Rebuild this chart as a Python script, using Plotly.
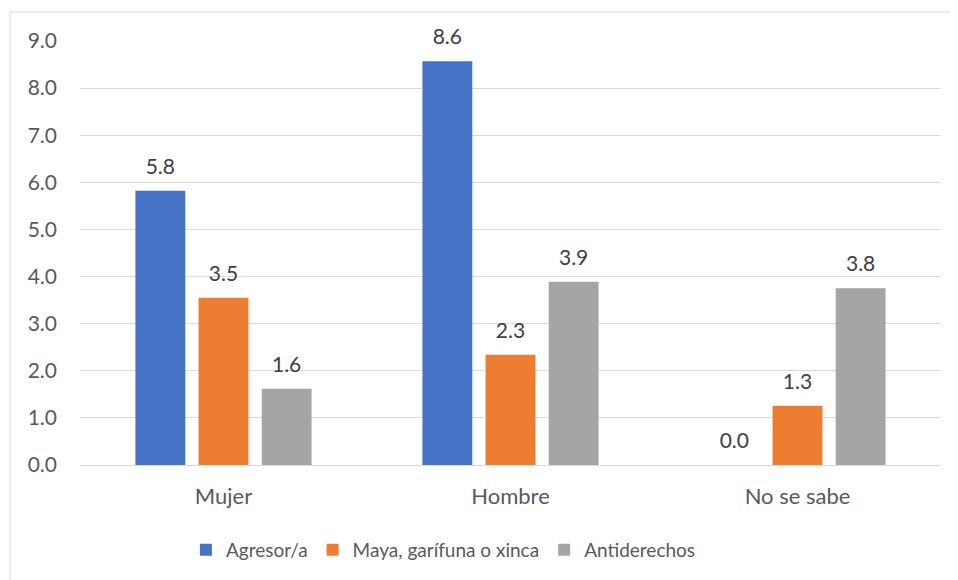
import plotly.graph_objects as go

categorias = ['Mujer', 'Hombre', 'No se sabe']
agresor = [5.82, 8.57, 0.0]
maya = [3.55, 2.34, 1.26]
antiderechos = [1.62, 3.89, 3.75]
series = [
    ('Agresor/a', agresor, '#4472C4'),
    ('Maya, garífuna o xinca', maya, '#ED7D31'),
    ('Antiderechos', antiderechos, '#A5A5A5'),
]
y_ticks = [0, 1, 2, 3, 4, 5, 6, 7, 8, 9]

FONT = 'Lato, Open Sans, sans-serif'
GAP = 0.34

fig = go.Figure()
for nombre, valores, color in series:
    fig.add_trace(go.Bar(
        x=categorias, y=valores, name=nombre,
        marker=dict(color=color, line=dict(width=0)),
        hoverinfo='skip',
    ))

# etiquetas de datos, alineadas con las barras (scattermode group)
for nombre, valores, color in series:
    fig.add_trace(go.Scatter(
        x=categorias, y=valores, mode='markers+text',
        text=[f'{v:.1f}' for v in valores], textposition='top center',
        textfont=dict(size=21, color='#404040', family=FONT),
        marker=dict(size=17, opacity=0),
        showlegend=False, cliponaxis=False, hoverinfo='skip',
    ))

# la página añade 8px de margen al body: la figura es 8px más pequeña
fig.update_layout(
    width=950, height=572,
    margin=dict(l=72, r=17, t=33, b=115, autoexpand=False),
    plot_bgcolor='white', paper_bgcolor='white',
    barmode='group', bargap=GAP, bargroupgap=0.21,
    scattermode='group', scattergap=GAP,
    font=dict(family=FONT, color='#595959', size=19),
    showlegend=True,
    legend=dict(orientation='h', x=0.123, xanchor='left', y=-0.2, yanchor='middle',
                font=dict(size=19, color='#595959'), traceorder='normal'),
    xaxis=dict(showgrid=False, showline=False, ticks='', tickfont=dict(size=22),
               ticklabelstandoff=16, automargin=False),
    yaxis=dict(range=[0, 9], tickvals=y_ticks, tickformat='.1f',
               showgrid=True, gridcolor='#d9d9d9', gridwidth=1,
               zeroline=True, zerolinecolor='#d9d9d9', zerolinewidth=1,
               tickfont=dict(size=21), ticks='', ticklabelstandoff=22,
               automargin=False),
    shapes=[dict(type='rect', xref='paper', yref='paper',
                 x0=-0.0813, x1=1.2, y0=-0.6, y1=1.0684,
                 line=dict(color='#d9d9d9', width=1), fillcolor='rgba(0,0,0,0)',
                 layer='below')],
)

fig.write_html('out.html')
